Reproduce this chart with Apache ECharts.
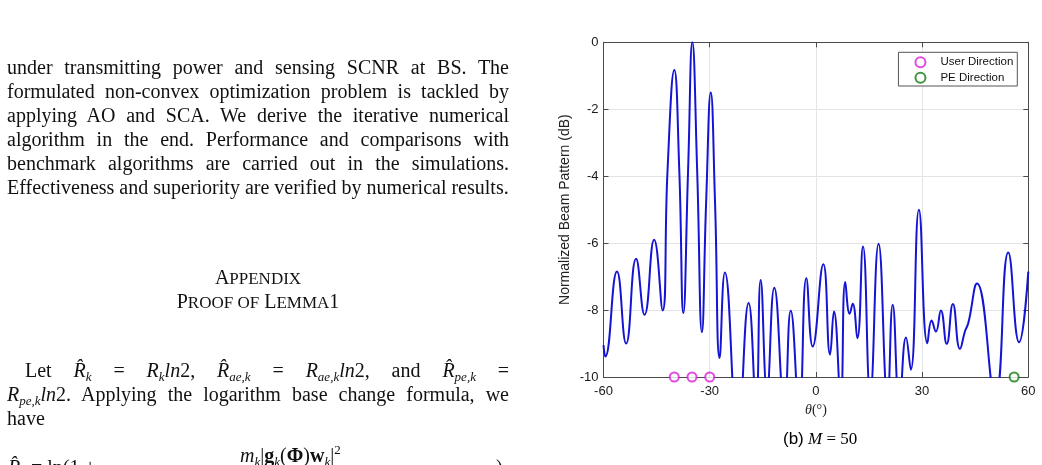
<!DOCTYPE html>
<html>
<head>
<meta charset="utf-8">
<script src="https://cdn.jsdelivr.net/npm/echarts@6/dist/echarts.min.js"></script>
<style>
html, body { margin: 0; padding: 0; background: #fff; }
#chart { position: absolute; left: 0; top: 0; width: 1042px; height: 465px; }
.page { position: absolute; font-family: 'Liberation Serif', serif; font-size: 20px; color: #111; z-index: 2; }
.jl { text-align: justify; text-align-last: justify; white-space: nowrap; }
.line { height: 24.1px; line-height: 24.1px; }
.head { text-align: center; }
.sm { font-size: 17px; }
i { font-style: italic; }
sub { font-size: 13px; vertical-align: -4px; line-height: 0; }
sup { font-size: 13px; vertical-align: 8px; line-height: 0; }
#caption { position: absolute; left: 783px; top: 429px; font-size: 17px; z-index: 2; white-space: nowrap; }
</style>
</head>
<body>
<div id="chart"></div>

<div class="page" style="left:7px; top:55px; width:502px;">
  <div class="line jl">under transmitting power and sensing SCNR at BS. The</div>
  <div class="line jl">formulated non-convex optimization problem is tackled by</div>
  <div class="line jl">applying AO and SCA. We derive the iterative numerical</div>
  <div class="line jl">algorithm in the end. Performance and comparisons with</div>
  <div class="line jl">benchmark algorithms are carried out in the simulations.</div>
  <div class="line" style="white-space:nowrap">Effectiveness and superiority are verified by numerical results.</div>
</div>

<div class="page" style="left:7px; top:265px; width:502px;">
  <div class="line head">A<span class="sm">PPENDIX</span></div>
  <div class="line head">P<span class="sm">ROOF OF</span> L<span class="sm">EMMA</span>1</div>
</div>

<div class="page" style="left:7px; top:358px; width:502px;">
  <div class="line jl" style="padding-left:18px"><span>Let</span> <span><i>R̂</i><sub><i>k</i></sub></span> <span>=</span> <span><i>R</i><sub><i>k</i></sub><i>ln</i>2,</span> <span><i>R̂</i><sub><i>ae,k</i></sub></span> <span>=</span> <span><i>R</i><sub><i>ae,k</i></sub><i>ln</i>2,</span> <span>and</span> <span><i>R̂</i><sub><i>pe,k</i></sub></span> <span>=</span></div>
  <div class="line jl"><i>R</i><sub><i>pe,k</i></sub><i>ln</i>2. Applying the logarithm base change formula, we</div>
  <div class="line">have</div>
</div>

<div class="page" style="left:240px; top:444px; white-space:nowrap;">
  <i>m</i><sub><i>k</i></sub>|<b>g</b><sub><i>k</i></sub>(<b>Φ</b>)<b>w</b><sub><i>k</i></sub>|<sup>2</sup>
</div>
<div class="page" style="left:8px; top:456px; white-space:nowrap;">
  <i>R̂</i><sub><i>k</i></sub> = ln(1 +
</div>
<div class="page" style="left:496px; top:456px;">)</div>

<div id="caption"><span style="font-family:'Liberation Sans'">(b)</span> <span style="font-family:'Liberation Serif'"><i>M</i> = 50</span></div>

<script>
// beam pattern samples (theta in degrees, normalized gain in dB)
const thetaDeg = [
  -60.0, -59.5, -56.2, -53.6, -50.8, -48.4, -45.7, -43.3, -41.9, -40.0,
  -38.6, -37.45, -36.1, -34.9, -33.55, -32.2, -31.0, -29.7, -28.5, -27.2,
  -25.7, -22.05, -19.0, -16.9, -15.6, -13.8, -11.75, -8.9, -7.1, -4.7,
  -2.7, -0.9, 2.1, 4.0, 5.1, 7.0, 8.3, 9.55, 10.4, 11.7,
  13.3, 15.35, 17.7, 20.25, 21.7, 23.6, 25.45, 26.8, 29.1, 31.5,
  32.7, 33.9, 35.3, 36.95, 38.7, 40.7, 42.1, 43.05, 45.5, 50.65,
  54.35, 57.4, 60.0
];
const beamDb = [
  -9.05, -9.39, -6.85, -9.0, -6.47, -8.14, -5.9, -8.01, -3.8, -0.83,
  -3.8, -8.09, -3.8, 0.0, -3.8, -8.66, -4.76, -1.5, -4.76, -9.43,
  -6.88, -11.6, -7.79, -10.8, -7.1, -10.4, -7.33, -10.9, -8.02, -11.0,
  -7.05, -9.09, -6.63, -9.33, -8.04, -10.6, -7.16, -8.11, -7.81, -8.84,
  -6.1, -10.5, -6.02, -10.6, -7.84, -10.8, -8.82, -9.78, -5.0, -8.99,
  -8.31, -8.64, -8.01, -9.01, -7.82, -9.16, -8.64, -8.39, -7.21, -10.6,
  -6.28, -8.96, -6.85
];

const userDirDeg = [-40, -35, -30];
const peDirDeg = [56];
const markerDb = -10;

const xTicks = [-60, -30, 0, 30, 60];
const yTicks = [-10, -8, -6, -4, -2, 0];

const sansFont = 'Liberation Sans';
const axisColor = '#4a4a4a';

const chart = echarts.init(document.getElementById('chart'));

const boxAxis = {
  axisLine: { show: true, onZero: false, lineStyle: { color: axisColor, width: 1 } },
  axisTick: { show: true, inside: true, length: 5, lineStyle: { color: axisColor } },
  axisLabel: { show: false },
  splitLine: { show: false }
};

chart.setOption({
  backgroundColor: 'transparent',
  animation: false,
  grid: { left: 603.5, top: 42.3, right: 13.7, bottom: 88 },
  legend: {
    orient: 'vertical',
    right: 24.7,
    top: 52.3,
    data: ['User Direction', 'PE Direction'],
    itemWidth: 30,
    itemHeight: 10,
    itemGap: 3.4,
    padding: [4, 4, 2.3, 16],
    borderColor: '#555',
    borderWidth: 1,
    backgroundColor: '#fff',
    textStyle: { fontFamily: sansFont, fontSize: 11.5, color: '#111' }
  },
  xAxis: [
    {
      type: 'value',
      position: 'bottom',
      min: xTicks[0],
      max: xTicks[xTicks.length - 1],
      interval: 30,
      axisLine: { show: true, onZero: false, lineStyle: { color: axisColor, width: 1 } },
      axisTick: { show: true, inside: true, length: 5, lineStyle: { color: axisColor } },
      axisLabel: { color: '#1a1a1a', fontFamily: sansFont, fontSize: 13, margin: 8 },
      splitLine: { show: true, lineStyle: { color: '#e4e4e4' } },
      name: '{i|θ}(°)',
      nameLocation: 'middle',
      nameGap: 26,
      nameTextStyle: {
        fontFamily: 'Liberation Serif', fontSize: 14, color: '#222',
        rich: { i: { fontFamily: 'Liberation Serif', fontStyle: 'italic', fontSize: 14, color: '#222' } }
      }
    },
    Object.assign({ type: 'value', position: 'top', min: -60, max: 60, interval: 30 }, boxAxis)
  ],
  yAxis: [
    {
      type: 'value',
      position: 'left',
      min: yTicks[0],
      max: yTicks[yTicks.length - 1],
      interval: 2,
      axisLine: { show: true, onZero: false, lineStyle: { color: axisColor, width: 1 } },
      axisTick: { show: true, inside: true, length: 5, lineStyle: { color: axisColor } },
      axisLabel: { color: '#1a1a1a', fontFamily: sansFont, fontSize: 13, margin: 5 },
      splitLine: { show: true, lineStyle: { color: '#e4e4e4' } },
      name: 'Normalized Beam Pattern (dB)',
      nameLocation: 'middle',
      nameGap: 31,
      nameTextStyle: { fontFamily: sansFont, fontSize: 14, color: '#222' }
    },
    Object.assign({ type: 'value', position: 'right', min: -10, max: 0, interval: 2 }, boxAxis)
  ],
  series: [
    {
      name: 'Beam Pattern',
      type: 'line',
      data: thetaDeg.map((t, i) => [t, beamDb[i]]),
      smooth: 0.5,
      showSymbol: false,
      clip: true,
      lineStyle: { color: '#1414d2', width: 2 },
      z: 2
    },
    {
      name: 'User Direction',
      type: 'scatter',
      data: userDirDeg.map(t => [t, markerDb]),
      symbol: 'emptyCircle',
      symbolSize: 9,
      clip: false,
      itemStyle: { color: '#d91ed9', borderColor: '#d91ed9', borderWidth: 1.5 },
      z: 5
    },
    {
      name: 'PE Direction',
      type: 'scatter',
      data: peDirDeg.map(t => [t, markerDb]),
      symbol: 'emptyCircle',
      symbolSize: 9,
      clip: false,
      itemStyle: { color: '#117a11', borderColor: '#117a11', borderWidth: 1.5 },
      z: 5
    }
  ]
});
</script>
</body>
</html>
